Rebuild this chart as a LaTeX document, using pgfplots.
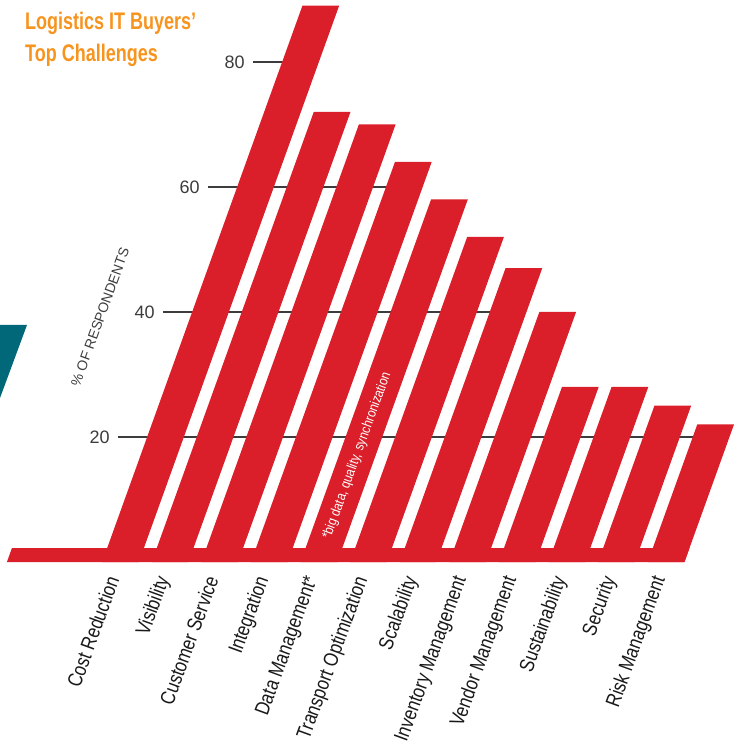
\documentclass[border=0pt]{standalone}
\usepackage{fontspec}
\setmainfont{Liberation Sans}
\newfontfamily\labelfont[FakeStretch=0.83]{Liberation Sans}
\newfontfamily\titlefont[FakeStretch=0.75]{Liberation Sans}
\newfontfamily\notefont[FakeStretch=0.85]{Liberation Sans}
\usepackage{pgfplots}
\pgfplotsset{compat=1.18}

\definecolor{barred}{RGB}{218,31,42}
\definecolor{titleorange}{RGB}{247,148,30}
\definecolor{decoteal}{RGB}{0,104,120}
\definecolor{gridgray}{RGB}{60,60,60}
\definecolor{ticktext}{RGB}{60,60,60}

\begin{document}
\begin{tikzpicture}
\begin{axis}[
    x={(49.6pt,0pt)}, y={(2.25pt,6.25pt)},
    xmin=-0.96, xmax=11.5, ymin=0, ymax=90,
    clip=false, no markers,
    axis line style={draw=none},
    major tick length=0pt,
    ytick={20,40,60,80},
    % labels sit a little left of the bar bottoms
    xtick={-0.3,0.7,1.7,2.7,3.7,4.7,5.7,6.7,7.7,8.7,9.7,10.7},
    xticklabels={Cost Reduction,Visibility,Customer Service,Integration,Data Management*,Transport Optimization,Scalability,Inventory Management,Vendor Management,Sustainability,Security,Risk Management},
    xticklabel style={yshift=-12pt, rotate=70, anchor=north east, inner sep=0pt, font=\labelfont\fontsize{20.5}{20.5}\selectfont, text=black!90},
    yticklabel style={font=\fontsize{18}{18}\selectfont, text=ticktext, anchor=east, inner sep=0pt, xshift=-8pt},
    /pgf/number format/assume math mode=true,
]
% grid segments, behind the bars
\addplot[gridgray, line width=1.2pt] coordinates {(-0.96,80) (0,80)};
\addplot[gridgray, line width=1.2pt] coordinates {(-0.96,60) (3,60)};
\addplot[gridgray, line width=1.2pt] coordinates {(-0.96,40) (6,40)};
\addplot[gridgray, line width=1.2pt] coordinates {(-0.96,20) (11,20)};

% slanted bars: the skewed y unit vector turns each box into a parallelogram
\addplot[fill=barred, draw=none] coordinates {(-0.37,0) (0.37,0) (0.37,89) (-0.37,89)} --cycle;
\addplot[fill=barred, draw=none] coordinates {(0.63,0) (1.37,0) (1.37,72) (0.63,72)} --cycle;
\addplot[fill=barred, draw=none] coordinates {(1.63,0) (2.37,0) (2.37,70) (1.63,70)} --cycle;
\addplot[fill=barred, draw=none] coordinates {(2.63,0) (3.37,0) (3.37,64) (2.63,64)} --cycle;
\addplot[fill=barred, draw=none] coordinates {(3.63,0) (4.37,0) (4.37,58) (3.63,58)} --cycle;
\addplot[fill=barred, draw=none] coordinates {(4.63,0) (5.37,0) (5.37,52) (4.63,52)} --cycle;
\addplot[fill=barred, draw=none] coordinates {(5.63,0) (6.37,0) (6.37,47) (5.63,47)} --cycle;
\addplot[fill=barred, draw=none] coordinates {(6.63,0) (7.37,0) (7.37,40) (6.63,40)} --cycle;
\addplot[fill=barred, draw=none] coordinates {(7.63,0) (8.37,0) (8.37,28) (7.63,28)} --cycle;
\addplot[fill=barred, draw=none] coordinates {(8.63,0) (9.37,0) (9.37,28) (8.63,28)} --cycle;
\addplot[fill=barred, draw=none] coordinates {(9.63,0) (10.37,0) (10.37,25) (9.63,25)} --cycle;
\addplot[fill=barred, draw=none] coordinates {(10.63,0) (11.37,0) (11.37,22) (10.63,22)} --cycle;
% base strip
\addplot[fill=barred, draw=none] coordinates {(-2.29,0) (11.37,0) (11.37,2.24) (-2.29,2.24)} --cycle;

\node[rotate=70, text=ticktext, font=\fontsize{14}{14}\selectfont] at (axis cs:-2.19,39.2) {\% OF RESPONDENTS};
\node[rotate=70, text=white, font=\notefont\fontsize{14}{14}\selectfont] at (axis cs:4,17) {*big data, quality, synchronization};
\coordinate (O) at (axis cs:0,0);
\end{axis}
\fill[decoteal] ([shift={(-120.5pt,237pt)}]O) -- ++(27pt,0pt) -- ++(-27pt,-73pt) -- cycle;
\node[anchor=base west, inner sep=0pt, text=titleorange, font=\titlefont\bfseries\fontsize{24}{24}\selectfont] at ([shift={(-95.5pt,532pt)}]O) {Logistics IT Buyers’};
\node[anchor=base west, inner sep=0pt, text=titleorange, font=\titlefont\bfseries\fontsize{24}{24}\selectfont] at ([shift={(-95.5pt,500pt)}]O) {Top Challenges};
\pgfresetboundingbox
\useasboundingbox ([shift={(-120.5pt,-184pt)}]O) rectangle ++(738pt,746pt);
\end{tikzpicture}
\end{document}
